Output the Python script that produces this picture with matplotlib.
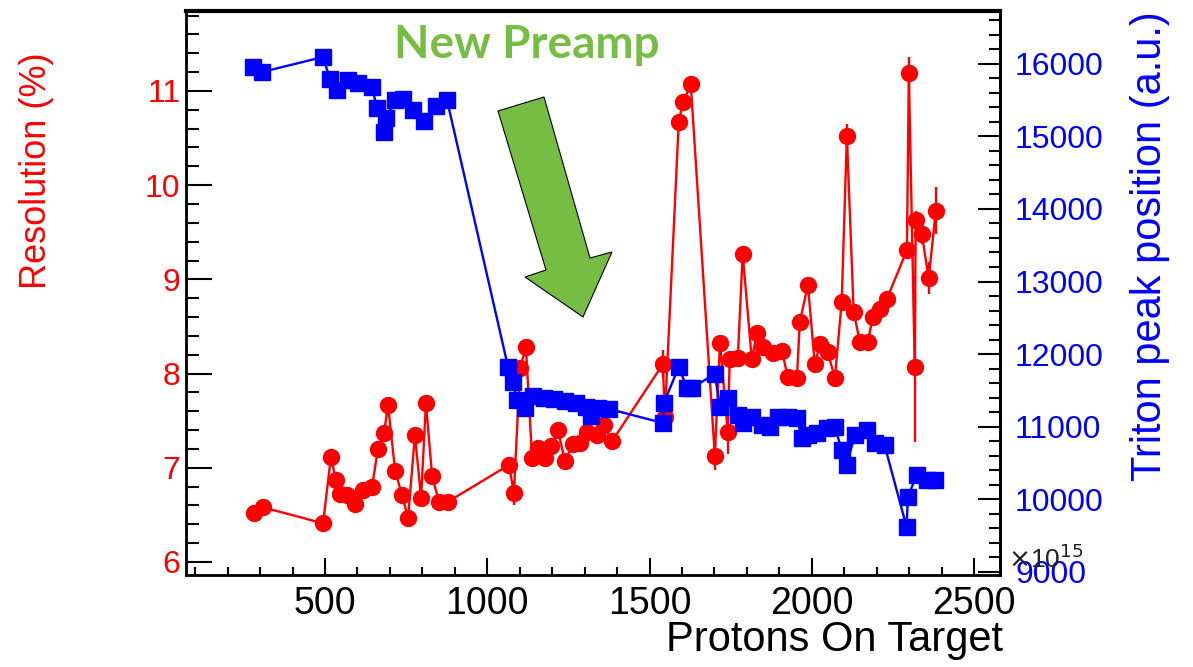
import matplotlib
matplotlib.use("Agg")
import matplotlib.pyplot as plt
from matplotlib.patches import Polygon
from matplotlib.ticker import MultipleLocator

plt.rcParams['font.family'] = ['Liberation Sans', 'DejaVu Sans']

# resolution (red), x in units of 1e15 POT
pot_res = [281, 309, 494, 518, 534, 546, 568, 592, 617, 645, 663, 682, 694, 716, 737,
           756, 777, 796, 811, 830, 851, 879, 1067, 1082, 1101, 1119, 1138, 1156, 1178,
           1196, 1218, 1239, 1264, 1285, 1307, 1338, 1359, 1384, 1541, 1547, 1590, 1603,
           1627, 1701, 1717, 1741, 1747, 1772, 1787, 1815, 1831, 1849, 1880, 1908, 1926,
           1954, 1963, 1988, 2009, 2025, 2049, 2071, 2092, 2108, 2129, 2148, 2172, 2188,
           2209, 2231, 2293, 2299, 2317, 2320, 2339, 2360, 2382]
resolution = [6.52, 6.58, 6.41, 7.11, 6.87, 6.72, 6.71, 6.61, 6.76, 6.80, 7.20, 7.37, 7.67,
              6.97, 6.71, 6.47, 7.35, 6.68, 7.69, 6.91, 6.64, 6.64, 7.03, 6.73, 8.06, 8.28,
              7.10, 7.21, 7.10, 7.23, 7.40, 7.07, 7.25, 7.26, 7.38, 7.35, 7.45, 7.28, 8.10,
              7.54, 10.67, 10.88, 11.07, 7.13, 8.32, 7.38, 8.15, 8.17, 9.27, 8.15, 8.43,
              8.28, 8.22, 8.24, 7.96, 7.95, 8.55, 8.94, 8.10, 8.31, 8.23, 7.95, 8.76, 10.52,
              8.65, 8.34, 8.33, 8.60, 8.69, 8.79, 9.31, 11.19, 8.07, 9.63, 9.48, 9.01, 9.73]
res_err = [0.04, 0.04, 0.04, 0.08, 0.05, 0.04, 0.04, 0.04, 0.04, 0.04, 0.05, 0.06, 0.08,
           0.05, 0.04, 0.04, 0.05, 0.06, 0.06, 0.05, 0.04, 0.04, 0.06, 0.13, 0.08, 0.06,
           0.05, 0.05, 0.05, 0.05, 0.05, 0.05, 0.05, 0.05, 0.05, 0.05, 0.05, 0.05, 0.15,
           0.08, 0.08, 0.08, 0.07, 0.15, 0.08, 0.23, 0.06, 0.06, 0.08, 0.08, 0.08, 0.06,
           0.06, 0.06, 0.06, 0.07, 0.06, 0.08, 0.08, 0.08, 0.06, 0.06, 0.08, 0.13, 0.06,
           0.08, 0.08, 0.06, 0.06, 0.06, 0.08, 0.17, 0.80, 0.10, 0.10, 0.17, 0.25]

# triton peak position (blue)
pot_peak = [278, 306, 494, 515, 537, 571, 602, 645, 660, 682, 688, 716, 740, 771, 805,
            842, 876, 1064, 1079, 1091, 1116, 1141, 1175, 1205, 1239, 1273, 1304, 1319,
            1341, 1375, 1541, 1544, 1590, 1615, 1630, 1701, 1717, 1741, 1772, 1787, 1815,
            1846, 1871, 1895, 1926, 1954, 1969, 1988, 2015, 2046, 2071, 2092, 2108, 2132,
            2169, 2194, 2224, 2292, 2296, 2323, 2354, 2379]
peak_pos = [15954, 15885, 16092, 15789, 15637, 15775, 15734, 15678, 15389, 15059, 15252,
            15499, 15513, 15362, 15210, 15417, 15499, 11823, 11616, 11368, 11258, 11424,
            11396, 11382, 11355, 11327, 11272, 11148, 11258, 11245, 11052, 11327, 11823,
            11534, 11534, 11726, 11272, 11396, 11162, 11052, 11134, 11024, 10997, 11134,
            11134, 11121, 10845, 10886, 10914, 10983, 10997, 10680, 10473, 10886, 10955,
            10776, 10749, 9620, 10033, 10336, 10267, 10267]

red = '#ff0000'
blue = '#0000ff'

fig = plt.figure(figsize=(11.93, 6.67), dpi=100)
ax = fig.add_axes([0.156, 0.138, 0.682, 0.8455])

ax.errorbar(pot_res, resolution, yerr=res_err, color=red, marker='o', markersize=11.5,
            lw=1.7, elinewidth=1.7, capsize=0)
ax.set_xlim(72, 2579)
ax.set_ylim(5.862, 11.849)
ax.xaxis.set_major_locator(MultipleLocator(500))
ax.xaxis.set_minor_locator(MultipleLocator(100))
ax.yaxis.set_major_locator(MultipleLocator(1))
ax.yaxis.set_minor_locator(MultipleLocator(0.2))
ax.tick_params(axis='both', which='both', direction='in', top=False, right=False)
ax.tick_params(axis='y', which='major', length=19, width=1.5, labelsize=23,
               labelcolor=red, pad=4)
ax.tick_params(axis='y', which='minor', length=9, width=1.5)
ax.tick_params(axis='x', which='major', length=12, width=1.5, labelsize=27, pad=8)
ax.tick_params(axis='x', which='minor', length=6, width=1.5)
for s in ax.spines.values():
    s.set_linewidth(2)

ax2 = ax.twinx()
ax2.plot(pot_peak, peak_pos, color=blue, marker='s', markersize=11, lw=1.7)
ax2.set_ylim(8959, 16725)
ax2.yaxis.set_major_locator(MultipleLocator(1000))
ax2.yaxis.set_minor_locator(MultipleLocator(200))
ax2.tick_params(axis='y', which='both', direction='in')
ax2.tick_params(axis='y', which='major', length=16, width=1.5, labelsize=23,
                labelcolor=blue, pad=11)
ax2.tick_params(axis='y', which='minor', length=8, width=1.5)
ax2.spines['top'].set_linewidth(3)
ax2.spines['right'].set_linewidth(2)

fig.text(0.031, 0.744, 'Resolution (%)', rotation=90, ha='center', va='center',
         color=red, fontsize=26)
fig.text(0.964, 0.631, 'Triton peak position (a.u.)', rotation=90, ha='center',
         va='center', color=blue, fontsize=30)
fig.text(0.841, 0.040, 'Protons On Target', ha='right', va='center', fontsize=30)
fig.text(0.845, 0.148, r'$\times$10$^{15}$', ha='left', va='baseline', fontsize=19,
         color='#222222')

fig.text(0.442, 0.933, 'New Preamp', ha='center', va='center', color='#76bd43',
         fontsize=33, fontweight='bold', family='Lato')

# green annotation arrow
arrow_px = [(498, 111), (544, 97), (590, 258), (612, 252), (583, 317), (525, 277), (546, 270)]
pts = [(x / 1193, 1 - y / 667) for x, y in arrow_px]
fig.patches.append(Polygon(pts, closed=True, facecolor='#76bd43', edgecolor='black',
                           lw=0.8, transform=fig.transFigure, figure=fig))

fig.savefig('out.png', dpi=100)
